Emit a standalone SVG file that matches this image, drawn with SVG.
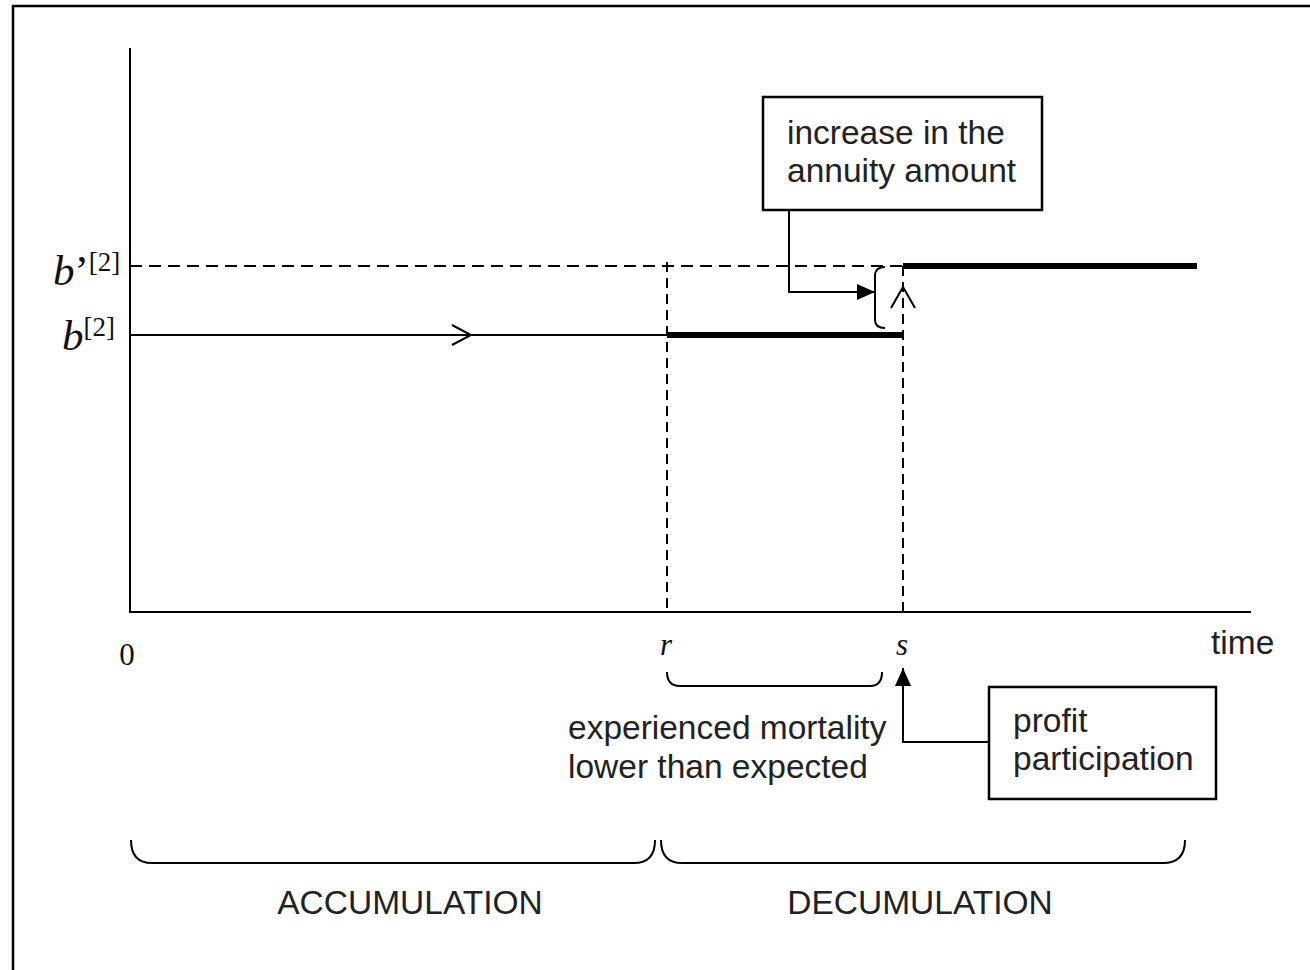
<svg xmlns="http://www.w3.org/2000/svg" width="1310" height="970" viewBox="0 0 1310 970">
  <style>
    .sans { font-family: "Liberation Sans", Arial, sans-serif; font-size: 33.5px; fill: #222; }
    .serif { font-family: "Liberation Serif", "Times New Roman", serif; fill: #111; }
    .ln { fill: none; stroke: #000; stroke-width: 2; }
    .thick { fill: none; stroke: #000; stroke-width: 6; }
    .dash { fill: none; stroke: #000; stroke-width: 2; stroke-dasharray: 12 7; }
    .vdash { fill: none; stroke: #000; stroke-width: 2; stroke-dasharray: 10 6; }
    .box { fill: #fff; stroke: #000; stroke-width: 2.5; }
  </style>
  <defs>
    <marker id="filled" viewBox="0 0 18 16" refX="18" refY="8" markerWidth="18" markerHeight="16" markerUnits="userSpaceOnUse" orient="auto">
      <path d="M0,0 L18,8 L0,16 Z" fill="#000"/>
    </marker>
  </defs>

  <rect width="1310" height="970" fill="#fff"/>
  <!-- outer frame (right and bottom edges lie outside the canvas) -->
  <rect x="13" y="6" width="1320" height="990" fill="none" stroke="#000" stroke-width="2.5"/>

  <!-- axes -->
  <g id="axes">
    <path class="ln" d="M130,48 V612 H1251"/>
    <text class="serif" x="127" y="665" font-size="31" text-anchor="middle">0</text>
    <text class="serif" x="666" y="655" font-size="31" font-style="italic" text-anchor="middle">r</text>
    <text class="serif" x="902" y="655" font-size="31" font-style="italic" text-anchor="middle">s</text>
    <text class="sans" x="1211" y="654" font-size="32">time</text>
    <text class="serif" x="53" y="285" font-size="43"><tspan font-style="italic">b</tspan>’<tspan font-size="27" dy="-14">[2]</tspan></text>
    <text class="serif" x="62" y="350" font-size="43"><tspan font-style="italic">b</tspan><tspan font-size="27" dy="-14">[2]</tspan></text>
  </g>

  <!-- benefit levels -->
  <g id="levels">
    <path class="dash" d="M130,266 H903"/>
    <path class="ln" d="M130,335 H667"/>
    <path class="ln" d="M452,325 L471,335 L452,345"/>
    <path class="thick" d="M667,335 H903"/>
    <path class="thick" d="M903,266 H1197"/>
    <path class="vdash" d="M667,262 V612"/>
    <path class="vdash" d="M903,266 V612"/>
  </g>

  <!-- increase bracket and arrows -->
  <g id="connectors">
    <path class="ln" d="M885,267 Q875,267 875,276 V320 Q875,328 885,328"/>
    <path class="ln" d="M789,210 V292 H875" marker-end="url(#filled)"/>
    <path class="ln" d="M891,308 L903,287 L915,308"/>
    <path class="ln" d="M989,742 H903 V668" marker-end="url(#filled)"/>
    <path class="ln" d="M667,672 Q667,686 680,686 H870 Q882,686 882,672"/>
    <path class="ln" d="M131,840 Q131,863 152,863 H634 Q655,863 655,840"/>
    <path class="ln" d="M661,840 Q661,863 682,863 H1163 Q1185,863 1185,840"/>
  </g>

  <g id="increase-box">
    <rect class="box" x="763" y="97" width="279" height="113"/>
    <text class="sans" x="787" y="144">increase in the</text>
    <text class="sans" x="787" y="182">annuity amount</text>
  </g>

  <g id="profit-box">
    <rect class="box" x="989" y="687" width="227" height="112"/>
    <text class="sans" x="1013" y="732">profit</text>
    <text class="sans" x="1013" y="770">participation</text>
  </g>

  <g id="mortality-note">
    <text class="sans" x="568" y="739">experienced mortality</text>
    <text class="sans" x="568" y="778">lower than expected</text>
  </g>

  <g id="phases">
    <text class="sans" x="410" y="914" text-anchor="middle">ACCUMULATION</text>
    <text class="sans" x="920" y="914" text-anchor="middle">DECUMULATION</text>
  </g>
</svg>
